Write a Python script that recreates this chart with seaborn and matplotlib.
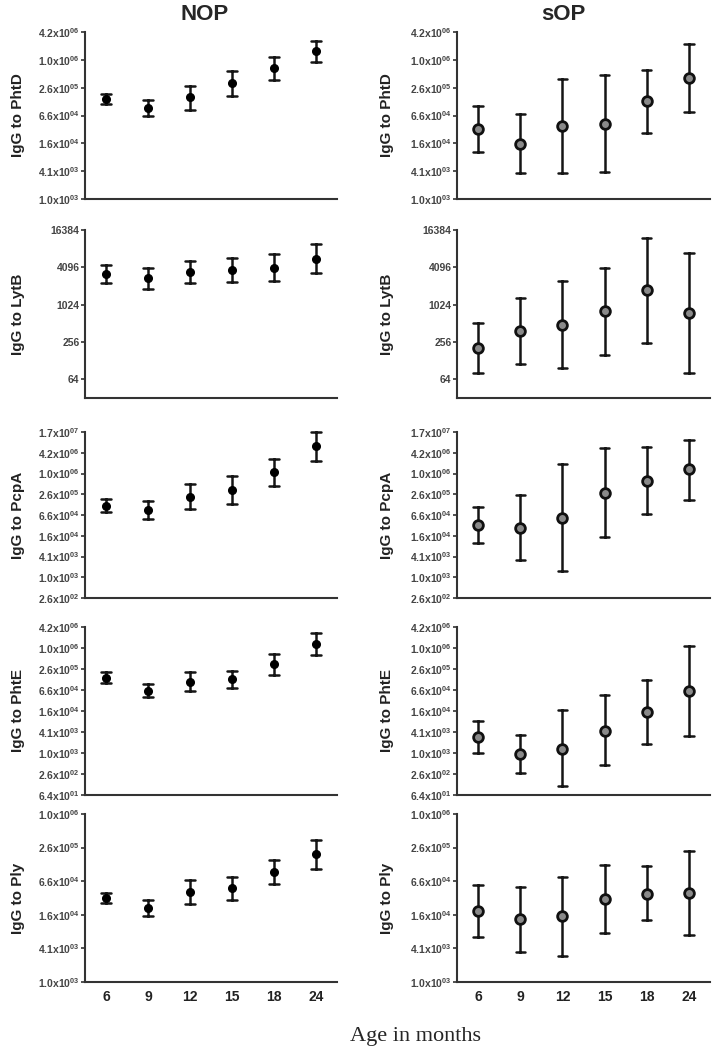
import numpy as np
import pandas as pd
import seaborn as sns
import matplotlib.pyplot as plt
from matplotlib.ticker import FuncFormatter, LogLocator, NullLocator

ages = ['6', '9', '12', '15', '18', '24']

# IgG titres: middle point, lower and upper error bar end
phtd_nop_mid = [149000, 93600, 162000, 325000, 687000, 1630000]
phtd_nop_lo = [114000, 63900, 86000, 170000, 384000, 941000]
phtd_nop_hi = [191000, 142000, 285000, 602000, 1230000, 2720000]
phtd_sop_mid = [33500, 15900, 39500, 42900, 133000, 431000]
phtd_sop_lo = [10600, 3680, 3680, 3930, 27000, 76700]
phtd_sop_hi = [107000, 70600, 410000, 485000, 632000, 2350000]

lytb_nop_mid = [3160, 2720, 3400, 3770, 4070, 5510]
lytb_nop_lo = [2260, 1830, 2260, 2410, 2500, 3320]
lytb_nop_hi = [4420, 4030, 5120, 5790, 6800, 9630]
lytb_sop_mid = [205, 390, 481, 798, 1765, 742]
lytb_sop_lo = [81, 115, 99, 160, 249, 80]
lytb_sop_hi = [525, 1313, 2437, 4065, 12330, 7050]

pcpa_nop_mid = [122000, 93500, 217000, 338000, 1146000, 6600000]
pcpa_nop_lo = [81800, 49100, 94800, 139000, 451000, 2440000]
pcpa_nop_hi = [186000, 172000, 516000, 859000, 2720000, 16800000]
pcpa_sop_mid = [33700, 28200, 54900, 283000, 629000, 1370000]
pcpa_sop_lo = [9950, 3200, 1540, 14800, 68500, 182000]
pcpa_sop_hi = [114000, 242000, 1990000, 5660000, 6050000, 10070000]

phte_nop_mid = [147000, 61900, 112900, 134700, 357600, 1384000]
phte_nop_lo = [101000, 42500, 59500, 73300, 179800, 665800]
phte_nop_hi = [219000, 94600, 214700, 225000, 727000, 2810000]
phte_sop_mid = [2880, 952, 1360, 4480, 15000, 60600]
phte_sop_lo = [1040, 265, 115, 461, 1810, 3200]
phte_sop_hi = [8300, 3470, 17200, 46400, 131000, 1190000]

ply_nop_mid = [32800, 21700, 41900, 48800, 94600, 201000]
ply_nop_lo = [26300, 15800, 25600, 30100, 57600, 109900]
ply_nop_hi = [39700, 30600, 68900, 77900, 155000, 363600]
ply_sop_mid = [18900, 13800, 15400, 31400, 39200, 39500]
ply_sop_lo = [6460, 3580, 3000, 7600, 13200, 7100]
ply_sop_hi = [56000, 51600, 79000, 129600, 120900, 231000]

antigens = ['PhtD', 'LytB', 'PcpA', 'PhtE', 'Ply']
nop = [(phtd_nop_mid, phtd_nop_lo, phtd_nop_hi), (lytb_nop_mid, lytb_nop_lo, lytb_nop_hi),
       (pcpa_nop_mid, pcpa_nop_lo, pcpa_nop_hi), (phte_nop_mid, phte_nop_lo, phte_nop_hi),
       (ply_nop_mid, ply_nop_lo, ply_nop_hi)]
sop = [(phtd_sop_mid, phtd_sop_lo, phtd_sop_hi), (lytb_sop_mid, lytb_sop_lo, lytb_sop_hi),
       (pcpa_sop_mid, pcpa_sop_lo, pcpa_sop_hi), (phte_sop_mid, phte_sop_lo, phte_sop_hi),
       (ply_sop_mid, ply_sop_lo, ply_sop_hi)]

# axis ranges as powers of 4
ylims = [(5, 11), (2.5, 7), (4, 12), (3, 11), (5, 10)]
rows_px = [(32, 199), (230, 398), (432, 598), (627, 795), (814, 982)]

sns.set_style('ticks')
plt.rcParams['font.family'] = ['Liberation Sans', 'DejaVu Sans']
plt.rcParams['mathtext.default'] = 'regular'

W, H = 713, 1050
fig = plt.figure(figsize=(W / 100, H / 100), dpi=100)


def sci(v, pos):
    e = int(np.floor(np.log10(v) + 1e-9))
    m = v / 10 ** e
    return f'{m:.1f}x10$^{{{e:02d}}}$'


def plain(v, pos):
    return f'{int(round(v))}'


def long_df(mid, lo, hi):
    return pd.DataFrame({'age': ages * 3, 'value': list(lo) + list(mid) + list(hi)})


cols = [(85, 337, nop, False), (457, 710, sop, True)]
for ci, (x0, x1, series, hollow) in enumerate(cols):
    for ri, ag in enumerate(antigens):
        top, bot = rows_px[ri]
        ax = fig.add_axes([x0 / W, 1 - bot / H, (x1 - x0) / W, (bot - top) / H])
        ax.set_yscale('log', base=4)
        ax.set_ylim(4 ** ylims[ri][0], 4 ** ylims[ri][1])
        mid, lo, hi = series[ri]
        df = long_df(mid, lo, hi)
        if hollow:
            kws = dict(markersize=7, markerfacecolor='#8a8a8a', markeredgecolor='#111111',
                       markeredgewidth=2)
        else:
            kws = dict(markersize=5.5, markerfacecolor='black', markeredgecolor='black',
                       markeredgewidth=1)
        sns.pointplot(data=df, x='age', y='value', order=ages, estimator='median',
                      errorbar=lambda v: (v.min(), v.max()), linestyle='none',
                      capsize=0.22, color='#151515', marker='o',
                      err_kws={'linewidth': 1.8}, ax=ax, **kws)
        for ln in ax.lines:
            ln.set_clip_on(False)
            if ln.get_marker() == 'o':
                ln.set_zorder(5)
        ax.set_xlim(-0.5, 5.5)
        ax.yaxis.set_major_locator(LogLocator(base=4, numticks=20))
        ax.yaxis.set_minor_locator(NullLocator())
        ax.yaxis.set_major_formatter(FuncFormatter(plain if ag == 'LytB' else sci))
        ax.set_ylim(4 ** ylims[ri][0], 4 ** ylims[ri][1])
        for s in ['top', 'right']:
            ax.spines[s].set_visible(False)
        for s in ['left', 'bottom']:
            ax.spines[s].set_color('#333333')
            ax.spines[s].set_linewidth(1.5)
        ax.tick_params(axis='y', length=3, width=1.2, color='#333333', pad=1,
                       labelsize=7.5, labelcolor='#444444')
        for t in ax.get_yticklabels():
            t.set_fontweight('bold')
        ax.tick_params(axis='x', length=0, pad=6, labelsize=10)
        if ri < len(antigens) - 1:
            ax.set_xticklabels([])
        else:
            for t in ax.get_xticklabels():
                t.set_fontweight('bold')
                t.set_color('#222222')
        ax.set_xlabel('')
        ax.set_ylabel(f'IgG to {ag}', fontsize=11, fontweight='bold', color='#222222')
        ax.yaxis.set_label_coords(-0.24 if ci == 0 else -0.25, 0.5)

fig.text(205 / W, 1 - 14 / H, 'NOP', ha='center', va='center', fontsize=16, fontweight='bold')
fig.text(563 / W, 1 - 14 / H, 'sOP', ha='center', va='center', fontsize=16, fontweight='bold')
fig.text(416 / W, 1 - 1036 / H, 'Age in months', ha='center', va='center', fontsize=16,
         family=['Liberation Serif', 'DejaVu Serif'])

fig.savefig('out.png', dpi=100)
